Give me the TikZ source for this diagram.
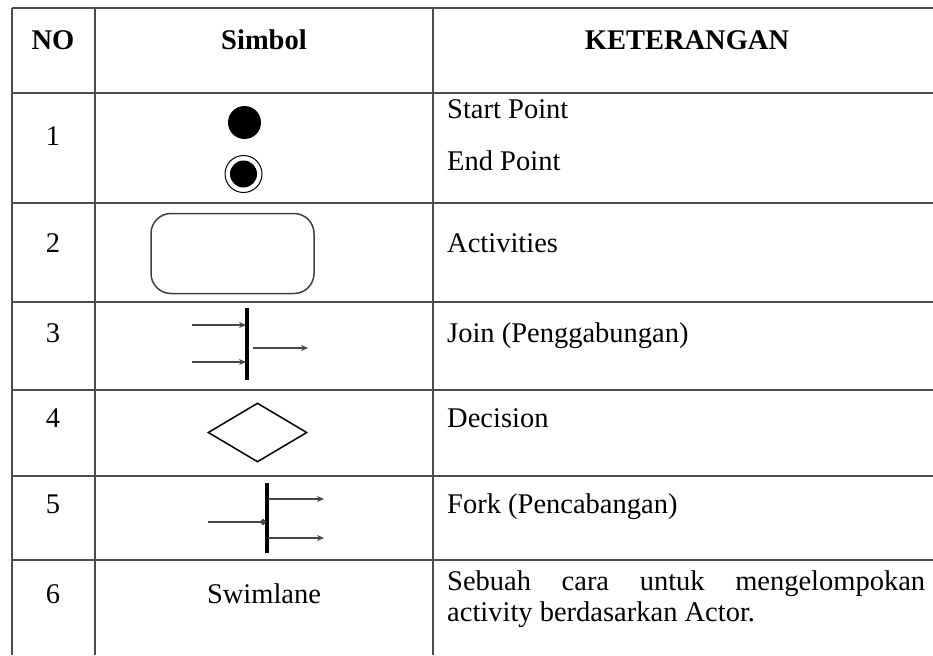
\documentclass[tikz,border=0pt]{standalone}
\usepackage{fontspec}
\setmainfont{Liberation Serif}
\usetikzlibrary{arrows.meta,shapes.geometric}

\tikzset{
  grid/.style={draw=black!70, line width=1.8pt},
  txt/.style={inner sep=0pt, font=\fontsize{28.5}{31}\selectfont},
  head/.style={txt, font=\fontsize{28.5}{31}\selectfont\bfseries},
  flow/.style={draw=black!72, line width=2.3pt, -{Stealth[length=7pt,width=6pt]}},
  bar/.style={draw=black, line width=3.2pt},
}

\begin{document}
\begin{tikzpicture}[x=1pt,y=-1pt]
\useasboundingbox (0,0) rectangle (933,655);

% table rules
\foreach \yy in {8,93,203,302,390,476,560}
  \draw[grid] (12,\yy) -- (933,\yy);
\foreach \xx in {12,95,433}
  \draw[grid] (\xx,8) -- (\xx,655);

% header
\node[head, anchor=base] (hno)  at (53,50)  {NO};
\node[head, anchor=base] (hsym) at (264,50) {Simbol};
\node[head, anchor=base] (hket) at (687,50) {KETERANGAN};

% row numbers
\node[txt, anchor=base] (n1) at (53,146) {1};
\node[txt, anchor=base] (n2) at (53,252) {2};
\node[txt, anchor=base] (n3) at (53,342) {3};
\node[txt, anchor=base] (n4) at (53,427) {4};
\node[txt, anchor=base] (n5) at (53,513) {5};
\node[txt, anchor=base] (n6) at (53,603) {6};

% descriptions
\node[txt, anchor=base west] (d1a) at (447,119) {Start Point};
\node[txt, anchor=base west] (d1b) at (447,171) {End Point};
\node[txt, anchor=base west] (d2)  at (447,252) {Activities};
\node[txt, anchor=base west] (d3)  at (447,342) {Join (Penggabungan)};
\node[txt, anchor=base west] (d4)  at (447,427) {Decision};
\node[txt, anchor=base west] (d5)  at (447,513) {Fork (Pencabangan)};
\node[txt, anchor=base west, text width=478pt, align=justify] (d6) at (447,590)
  {Sebuah cara untuk mengelompokan\linebreak activity berdasarkan Actor.};

% 1: start and end point
\node[circle, fill=black, minimum size=33pt, inner sep=0pt] (start) at (244.5,122.5) {};
\node[circle, draw=black, line width=1pt, minimum size=37pt, inner sep=0pt] (endo) at (243.5,174) {};
\node[circle, fill=black, minimum size=27pt, inner sep=0pt] (endi) at (243.5,174) {};

% 2: activity
\node[draw=black!75, line width=1.5pt, rounded corners=20pt, minimum width=163pt,
      minimum height=80pt, inner sep=0pt] (act) at (232.5,253.5) {};

% 3: join
\coordinate (jt) at (247,308);
\coordinate (jb) at (247,380);
\draw[bar] (jt) -- (jb);
\coordinate (ja) at (192,325);
\coordinate (jaE) at (246,325);
\coordinate (jc) at (192,362);
\coordinate (jcE) at (246,362);
\coordinate (jo) at (253,348);
\coordinate (joE) at (308,348);
\draw[flow] (ja) -- (jaE);
\draw[flow] (jc) -- (jcE);
\draw[flow] (jo) -- (joE);

% 4: decision
\node[diamond, draw=black, line width=1.5pt, minimum width=99pt, minimum height=59pt,
      inner sep=0pt, aspect=1.7] (dec) at (257.5,432.5) {};

% 5: fork
\coordinate (ft) at (267,483);
\coordinate (fb) at (267,553);
\draw[bar] (ft) -- (fb);
\coordinate (fi) at (208,522);
\coordinate (fiE) at (266,522);
\draw[flow, -{Circle[length=6pt]}] (fi) -- (fiE);
\coordinate (fa) at (268,499);
\coordinate (faE) at (324,499);
\coordinate (fc) at (268,538);
\coordinate (fcE) at (324,538);
\draw[flow] (fa) -- (faE);
\draw[flow] (fc) -- (fcE);

% 6: swimlane
\node[txt, anchor=base] (swim) at (264,603) {Swimlane};
\end{tikzpicture}
\end{document}
